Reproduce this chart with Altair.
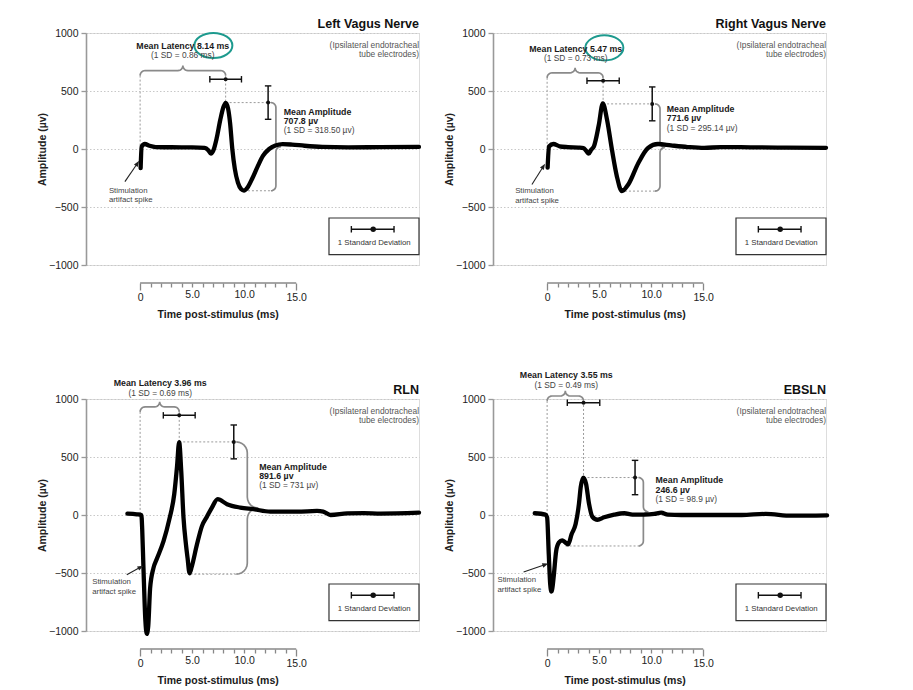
import math
import altair as alt
import pandas as pd

FONT = "Liberation Sans"
W, H = 333, 232
X_DOMAIN = [-5.2, 26.8]
Y_DOMAIN = [-1000, 1000]
MS_PER_PX = (X_DOMAIN[1] - X_DOMAIN[0]) / W
UV_PER_PX = (Y_DOMAIN[1] - Y_DOMAIN[0]) / H

# ---------------- data ----------------
panel_names = ["Left Vagus Nerve", "Right Vagus Nerve", "RLN", "EBSLN"]
subtitle_lines = ["(Ipsilateral endotracheal", "tube electrodes)"]

lv_time = [0.05, 0.15, 0.45, 0.9, 1.5, 3.0, 5.0, 6.2, 6.55, 6.8, 7.05, 7.35, 7.7, 8.0, 8.22, 8.45, 8.65,
           8.86, 9.1, 9.4, 9.7, 9.98, 10.3, 10.8, 11.3, 11.8, 12.4, 13.0, 13.7, 14.6, 15.8, 17.5, 20.0,
           23.0, 26.8]
lv_amp = [-165, 20, 43, 28, 17, 15, 14, 10, -10, -40, -10, 90, 250, 360, 398, 350, 220,
          0, -170, -290, -345, -358, -335, -250, -150, -60, 0, 30, 42, 38, 28, 18, 14,
          16, 18]

rv_time = [0.05, 0.18, 0.6, 1.2, 2.0, 3.0, 3.5, 3.75, 4.0, 4.25, 4.5, 4.97, 5.35, 5.76, 6.23, 6.7,
           7.18, 7.8, 8.77, 9.7, 10.66, 11.9, 13.5, 15.1, 16.7, 19.8, 23.0, 26.8]
rv_amp = [-160, 22, 43, 23, 16, 12, 8, -15, -40, -5, 23, 209, 394, 251, -6, -234,
          -363, -306, -120, 9, 43, 31, 17, 9, 17, 14, 12, 10]

rln_time = [-1.22, -0.32, 0.12, 0.2, 0.32, 0.5, 0.64, 0.78, 0.96, 1.28, 1.6, 2.25, 2.8, 3.28, 3.55,
            3.75, 3.95, 4.17, 4.4, 4.56, 4.75, 4.95, 5.46, 5.94, 6.42, 6.9, 7.45, 8.35, 9.63, 10.9,
            12.5, 15.1, 17.0, 17.6, 18.3, 19.9, 21.5, 23.1, 26.8]
rln_amp = [12, 6, 0, -120, -450, -900, -1025, -960, -632, -458, -380, -226, -40, 180, 420,
           629, 380, -23, -250, -371, -502, -450, -255, -96, -15, 64, 137, 93, 64, 50,
           29, 29, 35, 30, 0, 14, 17, 12, 20]

eb_time = [-1.19, -0.16, 0.0, 0.16, 0.3, 0.42, 0.55, 0.65, 0.87, 1.13, 1.45, 1.77, 2.03, 2.35, 2.74,
           3.06, 3.23, 3.48, 3.74, 4.03, 4.35, 4.84, 5.48, 6.45, 7.42, 8.2, 9.35, 10.3, 10.97, 11.6,
           12.9, 15.5, 18.7, 21.0, 23.5, 26.9]
eb_amp = [15, 3, -20, -340, -600, -660, -600, -515, -311, -238, -218, -238, -253, -166, -78,
          96, 241, 323, 270, 96, -15, -41, -20, 3, 15, 3, 3, 9, 20, 3,
          0, 0, 0, 9, -6, -3]

WAVE_T = [lv_time, rv_time, rln_time, eb_time]
WAVE_V = [lv_amp, rv_amp, rln_amp, eb_amp]

latency_ms = ["8.14", "5.47", "3.96", "3.55"]
latency_sd = ["0.86", "0.73", "0.69", "0.49"]
amplitude_uv = ["707.8", "771.6", "891.6", "246.6"]
amplitude_sd = ["318.50", "295.14", "731", "98.9"]

# annotation anchors (data units)
peak_t = [8.22, 5.38, 3.76, 3.5]
peak_v = [400, 389, 630, 323]
trough_t = [9.98, 7.1, 4.82, 1.77]
trough_v = [-360, -363, -510, -267]
lat_brace_y = [676, 657, 932, 1026]
lat_bar_y = [601, 589, 859, 968]
lat_bar_half = [1.52, 1.55, 1.53, 1.56]
amp_bar_x = [12.3, 10.1, 9.0, 8.45]
amp_bar_half = [144, 146, 146, 148]
amp_brace_x = [13.05, 10.85, 10.3, 9.25]
amp_brace_r = [5, 5, 11, 5]
lat_text_x = [4.1, 2.75, 1.93, 1.84]
lat_text_y = [889, 866, 1134, 1206]
amp_text_x = [13.8, 11.5, 11.44, 10.42]
amp_text_y = [322, 346, 417, 299]
stim_text_x = [-3.0, -3.07, -4.6, -4.77]
stim_text_y = [-362, -363, -579, -564]
arrow_from = [(-1.46, -281), (-1.46, -306), (-1.28, -515), (-2.26, -491)]
arrow_to = [(-0.25, -123), (-0.35, -149), (0.06, -449), (-0.16, -427)]
circle_center = [(7.04, 892), (5.5, 872), None, None]

legend_box = [18.15, 26.8, -595, -910]
legend_bar = [20.3, 24.4, -692]
legend_dot_x = 22.4
legend_text = "1 Standard Deviation"
x_ticks = list(range(0, 16))
y_ticks = [-1000, -500, 0, 500, 1000]

TEAL = "#1d9a8e"


def arc(cx, cy, rx, ry, a0, a1, n=7):
    out = []
    for j in range(n):
        a = a0 + (a1 - a0) * j / (n - 1)
        out.append((cx + rx * math.cos(a), cy + ry * math.sin(a)))
    return out


def brace_h(x0, x1, y, r):
    rx, ry = r * MS_PER_PX, r * UV_PER_PX
    xm = (x0 + x1) / 2
    p = arc(x0 + rx, y - ry, rx, ry, math.pi, math.pi / 2)
    p += arc(xm - rx, y + ry, rx, ry, -math.pi / 2, 0)
    p += arc(xm + rx, y + ry, rx, ry, math.pi, 1.5 * math.pi)
    p += arc(x1 - rx, y - ry, rx, ry, math.pi / 2, 0)
    return p


def brace_v(x, ytop, ybot, r):
    rx, ry = r * MS_PER_PX, r * UV_PER_PX
    ym = (ytop + ybot) / 2
    p = arc(x - rx, ytop - ry, rx, ry, math.pi / 2, 0)
    p += arc(x + rx, ym + ry, rx, ry, math.pi, 1.5 * math.pi)
    p += arc(x + rx, ym - ry, rx, ry, math.pi / 2, math.pi)
    p += arc(x - rx, ybot + ry, rx, ry, 0, -math.pi / 2)
    return p


def make_panel(k):
    xs = alt.Scale(domain=X_DOMAIN, nice=False, zero=False)
    ys = alt.Scale(domain=Y_DOMAIN, nice=False, zero=False)
    xax = alt.Axis(values=x_ticks, domain=False, grid=False, offset=18, title=None,
                   tickSize={"condition": {"test": "datum.value == 0 || datum.value == 15", "value": 7},
                             "value": 4},
                   tickColor="#888", tickWidth=1.3,
                   labelExpr="datum.value % 5 == 0 ? (datum.value == 0 ? '0' : format(datum.value, '.1f')) : ''",
                   labelFontSize=10.5, labelColor="#222", labelPadding=2, labelOverlap=False,
                   labelFlush=False)
    yax = alt.Axis(values=y_ticks, format="d", grid=True, gridColor="#c8c8c8", gridDash=[1.5, 2],
                   gridWidth=1,
                   domainColor="#999", domainWidth=1.6, tickColor="#999", tickSize=5, tickWidth=1.3,
                   labelFontSize=10.5, labelColor="#222", labelPadding=3,
                   title="Amplitude (µv)", titleFontSize=10.5, titleFontWeight="bold",
                   titleColor="#222", titlePadding=1)

    def X(f="x"):
        return alt.X(f, type="quantitative", scale=xs, axis=xax)

    def Y(f="y"):
        return alt.Y(f, type="quantitative", scale=ys, axis=yax)

    layers = []
    r_lat = 5
    rx_l, ry_l = r_lat * MS_PER_PX, r_lat * UV_PER_PX
    ra = amp_brace_r[k]
    rx_a = ra * MS_PER_PX

    # dashed guide lines
    dash = pd.DataFrame([
        {"x": 0, "x2": 0, "y": lat_brace_y[k] - ry_l, "y2": 0},
        {"x": peak_t[k], "x2": peak_t[k], "y": lat_brace_y[k] - ry_l, "y2": peak_v[k]},
        {"x": peak_t[k], "x2": amp_brace_x[k] - rx_a, "y": peak_v[k], "y2": peak_v[k]},
        {"x": trough_t[k], "x2": amp_brace_x[k] - rx_a, "y": trough_v[k], "y2": trough_v[k]},
    ])
    layers.append(alt.Chart(dash).mark_rule(color="#9a9a9a", strokeWidth=1, strokeDash=[2, 2])
                  .encode(x=X(), x2="x2:Q", y=Y(), y2="y2:Q"))

    # braces
    rows = []
    for g, pts in enumerate([brace_h(0, peak_t[k], lat_brace_y[k], r_lat),
                             brace_v(amp_brace_x[k], peak_v[k], trough_v[k], ra)]):
        for i, (px, py) in enumerate(pts):
            rows.append({"x": px, "y": py, "i": i, "g": g})
    layers.append(alt.Chart(pd.DataFrame(rows)).mark_line(color="#8a8a8a", strokeWidth=1.7)
                  .encode(x=X(), y=Y(), order="i:Q", detail="g:N"))

    # waveform
    wave = pd.DataFrame({"x": WAVE_T[k], "y": WAVE_V[k]})
    layers.append(alt.Chart(wave).mark_line(color="#000", strokeWidth=4.3, interpolate="monotone",
                                            strokeJoin="round", strokeCap="round")
                  .encode(x=X(), y=Y()))

    # legend box
    box = pd.DataFrame([{"x": legend_box[0], "x2": legend_box[1], "y": legend_box[2], "y2": legend_box[3]}])
    layers.append(alt.Chart(box).mark_rect(fill="white", stroke="#333", strokeWidth=1.2)
                  .encode(x=X(), x2="x2:Q", y=Y(), y2="y2:Q"))

    # error bars (latency, amplitude, legend)
    lc = peak_t[k]
    bars = pd.DataFrame([
        {"x": lc - lat_bar_half[k], "x2": lc + lat_bar_half[k], "y": lat_bar_y[k], "y2": lat_bar_y[k]},
        {"x": amp_bar_x[k], "x2": amp_bar_x[k], "y": peak_v[k] + amp_bar_half[k], "y2": peak_v[k] - amp_bar_half[k]},
        {"x": legend_bar[0], "x2": legend_bar[1], "y": legend_bar[2], "y2": legend_bar[2]},
    ])
    layers.append(alt.Chart(bars).mark_rule(color="#111", strokeWidth=1.5)
                  .encode(x=X(), x2="x2:Q", y=Y(), y2="y2:Q"))
    vcaps = pd.DataFrame({"x": [lc - lat_bar_half[k], lc + lat_bar_half[k], legend_bar[0], legend_bar[1]],
                          "y": [lat_bar_y[k]] * 2 + [legend_bar[2]] * 2})
    layers.append(alt.Chart(vcaps).mark_point(shape="M0,-1L0,1", size=42, filled=False, stroke="#111",
                                              strokeWidth=1.4, opacity=1)
                  .encode(x=X(), y=Y()))
    hcaps = pd.DataFrame({"x": [amp_bar_x[k]] * 2,
                          "y": [peak_v[k] + amp_bar_half[k], peak_v[k] - amp_bar_half[k]]})
    layers.append(alt.Chart(hcaps).mark_point(shape="M-1,0L1,0", size=42, filled=False, stroke="#111",
                                              strokeWidth=1.4, opacity=1)
                  .encode(x=X(), y=Y()))
    dots = pd.DataFrame({"x": [lc, amp_bar_x[k], legend_dot_x],
                         "y": [lat_bar_y[k], peak_v[k], legend_bar[2]],
                         "s": [16, 16, 30]})
    layers.append(alt.Chart(dots).mark_point(filled=True, color="#111", opacity=1)
                  .encode(x=X(), y=Y(), size=alt.Size("s:Q", scale=None)))

    # stimulation arrow
    (ax0, ay0), (ax1, ay1) = arrow_from[k], arrow_to[k]
    arr = pd.DataFrame([{"x": ax0, "y": ay0, "x2": ax1, "y2": ay1}])
    layers.append(alt.Chart(arr).mark_rule(color="#222", strokeWidth=1.1)
                  .encode(x=X(), x2="x2:Q", y=Y(), y2="y2:Q"))
    dxp = (ax1 - ax0) / MS_PER_PX
    dyp = (ay1 - ay0) / UV_PER_PX
    ang = math.degrees(math.atan2(dxp, dyp)) % 360
    head = pd.DataFrame([{"x": ax1, "y": ay1}])
    layers.append(alt.Chart(head).mark_point(shape="M0,-1L0.75,1L-0.75,1Z", size=36, filled=True,
                                             color="#222", angle=ang, opacity=1)
                  .encode(x=X(), y=Y()))

    # teal circle
    if circle_center[k] is not None:
        cc = pd.DataFrame([{"x": circle_center[k][0], "y": circle_center[k][1]}])
        layers.append(alt.Chart(cc).mark_point(shape="M-1,0A1,0.66 0 1,1 1,0A1,0.66 0 1,1 -1,0Z",
                                               size=1444, filled=False, stroke=TEAL, strokeWidth=2,
                                               opacity=1)
                      .encode(x=X(), y=Y()))

    gap = 9.4 * UV_PER_PX
    # texts
    title_df = pd.DataFrame([{"x": X_DOMAIN[1], "y": 1078, "t": panel_names[k]}])
    layers.append(alt.Chart(title_df).mark_text(align="right", baseline="middle", fontSize=12.5,
                                                fontWeight="bold", color="#111")
                  .encode(x=X(), y=Y(), text="t:N"))
    sub_df = pd.DataFrame({"x": [X_DOMAIN[1]] * 2, "y": [900, 900 - gap], "t": subtitle_lines})
    layers.append(alt.Chart(sub_df).mark_text(align="right", baseline="middle", fontSize=8.4,
                                              color="#555")
                  .encode(x=X(), y=Y(), text="t:N"))
    lat_b = pd.DataFrame([{"x": lat_text_x[k], "y": lat_text_y[k],
                           "t": f"Mean Latency {latency_ms[k]} ms"}])
    layers.append(alt.Chart(lat_b).mark_text(align="center", baseline="middle", fontSize=8.8,
                                             fontWeight="bold", color="#1a1a1a")
                  .encode(x=X(), y=Y(), text="t:N"))
    lat_n = pd.DataFrame([{"x": lat_text_x[k], "y": lat_text_y[k] - gap,
                           "t": f"(1 SD = {latency_sd[k]} ms)"}])
    layers.append(alt.Chart(lat_n).mark_text(align="center", baseline="middle", fontSize=8.4,
                                             color="#444")
                  .encode(x=X(), y=Y(), text="t:N"))
    amp_b = pd.DataFrame({"x": [amp_text_x[k]] * 2, "y": [amp_text_y[k], amp_text_y[k] - gap],
                          "t": ["Mean Amplitude", f"{amplitude_uv[k]} µv"]})
    layers.append(alt.Chart(amp_b).mark_text(align="left", baseline="middle", fontSize=8.8,
                                             fontWeight="bold", color="#1a1a1a")
                  .encode(x=X(), y=Y(), text="t:N"))
    amp_n = pd.DataFrame([{"x": amp_text_x[k], "y": amp_text_y[k] - 2 * gap,
                           "t": f"(1 SD = {amplitude_sd[k]} µv)"}])
    layers.append(alt.Chart(amp_n).mark_text(align="left", baseline="middle", fontSize=8.4,
                                             color="#444")
                  .encode(x=X(), y=Y(), text="t:N"))
    stim = pd.DataFrame({"x": [stim_text_x[k]] * 2, "y": [stim_text_y[k], stim_text_y[k] - gap],
                         "t": ["Stimulation", "artifact spike"]})
    layers.append(alt.Chart(stim).mark_text(align="left", baseline="middle", fontSize=7.8,
                                            color="#444")
                  .encode(x=X(), y=Y(), text="t:N"))
    leg_t = pd.DataFrame([{"x": legend_dot_x + 0.1, "y": -813, "t": legend_text}])
    layers.append(alt.Chart(leg_t).mark_text(align="center", baseline="middle", fontSize=7.8,
                                             color="#333")
                  .encode(x=X(), y=Y(), text="t:N"))

    # detached x axis line and title
    axl = pd.DataFrame([{"x": x_ticks[0], "x2": x_ticks[-1]}])
    layers.append(alt.Chart(axl).mark_rule(color="#888", strokeWidth=1.5)
                  .encode(x=X(), x2="x2:Q", y=alt.value(H + 18)))
    axt = pd.DataFrame([{"x": (x_ticks[0] + x_ticks[-1]) / 2, "t": "Time post-stimulus (ms)"}])
    layers.append(alt.Chart(axt).mark_text(align="center", baseline="middle", fontSize=10.5,
                                           fontWeight="bold", color="#1a1a1a")
                  .encode(x=X(), y=alt.value(H + 50), text="t:N"))

    return alt.layer(*layers).properties(width=W, height=H)


panels = [make_panel(k) for k in range(4)]
chart = alt.concat(*panels, columns=2, spacing={"row": 134, "column": 74}, bounds="flush").properties(
    padding={"left": 29, "top": 9, "right": 5, "bottom": 0}
).configure_view(strokeWidth=0).configure(font=FONT)

chart.save("out.html", embed_options={"renderer": "svg", "actions": False})
